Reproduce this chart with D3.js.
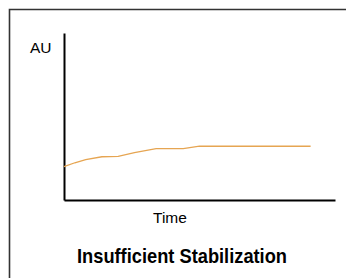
<!DOCTYPE html>
<meta charset="utf-8">
<script src="https://d3js.org/d3.v7.min.js"></script>
<style>
body { margin: 0; background: #fff; }
</style>
<div id="chart"></div>
<script>
// data (time and AU in arbitrary 0-100 units)
var timeValues = [0, 4, 8, 14, 20, 26, 34, 44, 50, 91];
var auValues = [20, 22.3, 24.2, 25.9, 26.1, 28.4, 30.8, 30.8, 32.2, 32.2];
var xLabel = "Time";
var yLabel = "AU";
var title = "Insufficient Stabilization";

var W = 346, H = 278;
var margin = {top: 33, right: 11, bottom: 78, left: 64};
var width = W - margin.left - margin.right,
    height = H - margin.top - margin.bottom;

var svg = d3.select("#chart").append("svg")
  .attr("width", W)
  .attr("height", H);

// outer frame (only top and left edges show)
svg.append("path")
  .attr("d", "M9.5," + H + "V9.5H" + W)
  .attr("fill", "none")
  .attr("stroke", "#333")
  .attr("stroke-width", 1.6);

var g = svg.append("g")
  .attr("transform", "translate(" + margin.left + "," + margin.top + ")");

var x = d3.scaleLinear().domain([0, 100]).range([0, width]);
var y = d3.scaleLinear().domain([0, 100]).range([height, 0]);

// axes without ticks
g.append("g")
  .attr("transform", "translate(0," + height + ")")
  .call(d3.axisBottom(x).tickValues([]).tickSizeOuter(0))
  .select(".domain").attr("stroke", "#000").attr("stroke-width", 2);
g.append("g")
  .call(d3.axisLeft(y).tickValues([]).tickSizeOuter(0))
  .select(".domain").attr("stroke", "#000").attr("stroke-width", 2);

var data = timeValues.map(function(t, i) { return {t: t, v: auValues[i]}; });

g.append("path")
  .datum(data)
  .attr("fill", "none")
  .attr("stroke", "#E6A552")
  .attr("stroke-width", 1.3)
  .attr("d", d3.line()
    .x(function(d) { return x(d.t); })
    .y(function(d) { return y(d.v); }));

svg.append("text")
  .attr("x", 30).attr("y", 53)
  .attr("font-family", "Liberation Sans, Arial, sans-serif")
  .attr("font-size", 15.5)
  .text(yLabel);

svg.append("text")
  .attr("x", 153).attr("y", 222.5)
  .attr("font-family", "Liberation Sans, Arial, sans-serif")
  .attr("font-size", 15.5)
  .text(xLabel);

svg.append("text")
  .attr("x", 77).attr("y", 263)
  .attr("font-family", "Liberation Sans Narrow, Arial Narrow, sans-serif")
  .attr("font-weight", "bold")
  .attr("font-size", 21)
  .attr("textLength", 210)
  .attr("lengthAdjust", "spacingAndGlyphs")
  .text(title);
</script>
